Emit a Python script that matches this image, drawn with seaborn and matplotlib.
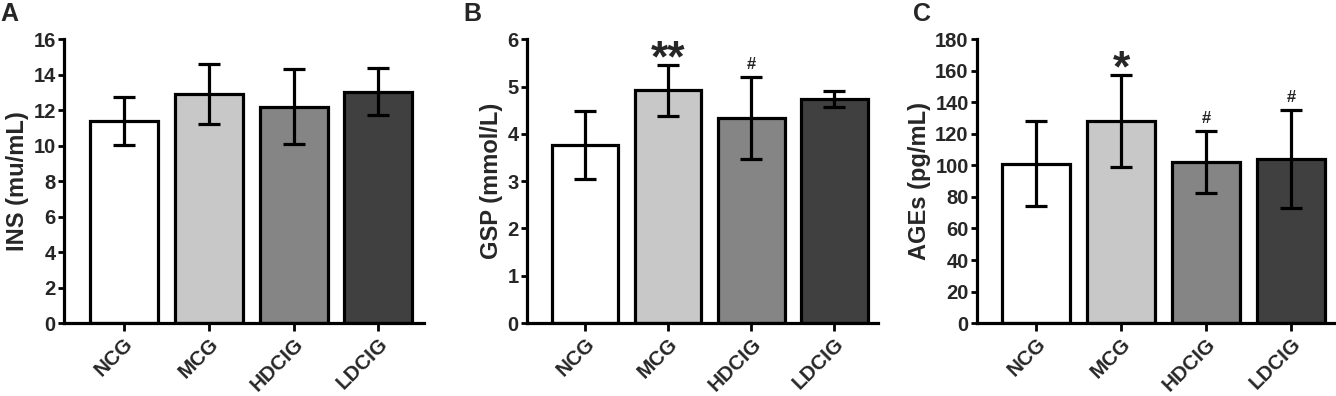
import pandas as pd
import matplotlib
matplotlib.use("Agg")
import matplotlib.pyplot as plt
import seaborn as sns

# Groupes et valeurs (moyenne ± écart-type)
groups = ["NCG", "MCG", "HDCIG", "LDCIG"]
bar_colors = ["#ffffff", "#c8c8c8", "#858585", "#404040"]

ins_mean = [11.4, 12.9, 12.2, 13.05]
ins_sd = [1.35, 1.7, 2.1, 1.3]

gsp_mean = [3.77, 4.92, 4.33, 4.73]
gsp_sd = [0.72, 0.54, 0.87, 0.17]

ages_mean = [101, 128, 102, 104]
ages_sd = [27, 29, 19.5, 31]

# marques de significativité (groupe -> texte)
gsp_marks = {"MCG": "**", "HDCIG": "#"}
ages_marks = {"MCG": "*", "HDCIG": "#", "LDCIG": "#"}

sns.set_style("ticks")
plt.rcParams["font.family"] = ["Liberation Sans", "DejaVu Sans"]

fig = plt.figure(figsize=(13.36, 3.96), dpi=100)

panels = [
    ("A", [0.048, 0.184, 0.269, 0.717], ins_mean, ins_sd, "INS (mu/mL)", 16, 2, {}),
    ("B", [0.3945, 0.184, 0.263, 0.717], gsp_mean, gsp_sd, "GSP (mmol/L)", 6, 1, gsp_marks),
    ("C", [0.7313, 0.184, 0.2687, 0.717], ages_mean, ages_sd, "AGEs (pg/mL)", 180, 20, ages_marks),
]

for letter, rect, means, sds, ylabel, ymax, step, marks in panels:
    ax = fig.add_axes(rect)
    df = pd.DataFrame({"groupe": groups, "valeur": means, "sd": sds})
    sns.barplot(data=df, x="groupe", y="valeur", hue="groupe", palette=bar_colors,
                legend=False, errorbar=None, edgecolor="black", linewidth=2.3,
                width=0.8, ax=ax, zorder=2)
    ax.errorbar(range(len(groups)), df["valeur"], yerr=df["sd"], fmt="none",
                ecolor="black", elinewidth=2.3, capsize=8, capthick=2.3, zorder=3)

    # annotations au-dessus des barres d'erreur
    for i, g in enumerate(groups):
        if g in marks:
            txt = marks[g]
            big = "*" in txt
            ax.annotate(txt, (i, means[i] + sds[i]), xytext=(0, -11 if big else 4),
                        textcoords="offset points", ha="center", va="bottom",
                        fontsize=32 if big else 12, fontweight="bold")

    ax.set_ylim(0, ymax)
    ax.set_yticks(range(0, ymax + 1, step))
    ax.set_xlim(-0.7, 3.53)
    ax.set_xlabel("")
    ax.set_ylabel(ylabel, fontsize=17, fontweight="bold", labelpad=3)
    for lab in ax.get_yticklabels():
        lab.set_fontweight("bold")
        lab.set_fontsize(14.5)
    ax.set_xticks(range(len(groups)))
    ax.set_xticklabels(groups, rotation=45, ha="right", va="top",
                       rotation_mode="anchor", fontsize=14.8, fontweight="bold")
    ax.tick_params(axis="y", length=4, width=2, pad=2, color="black")
    ax.tick_params(axis="x", length=6, width=2, pad=2, color="black")
    sns.despine(ax=ax)
    for s in ["left", "bottom"]:
        ax.spines[s].set_linewidth(2.3)
        ax.spines[s].set_color("black")
    ax.set_facecolor("white")

    # lettre du panneau
    fig.text(rect[0] - 0.048, 0.995, letter, fontsize=18, fontweight="bold",
             ha="left", va="top")

fig.savefig("out.png", dpi=100, facecolor="white")
